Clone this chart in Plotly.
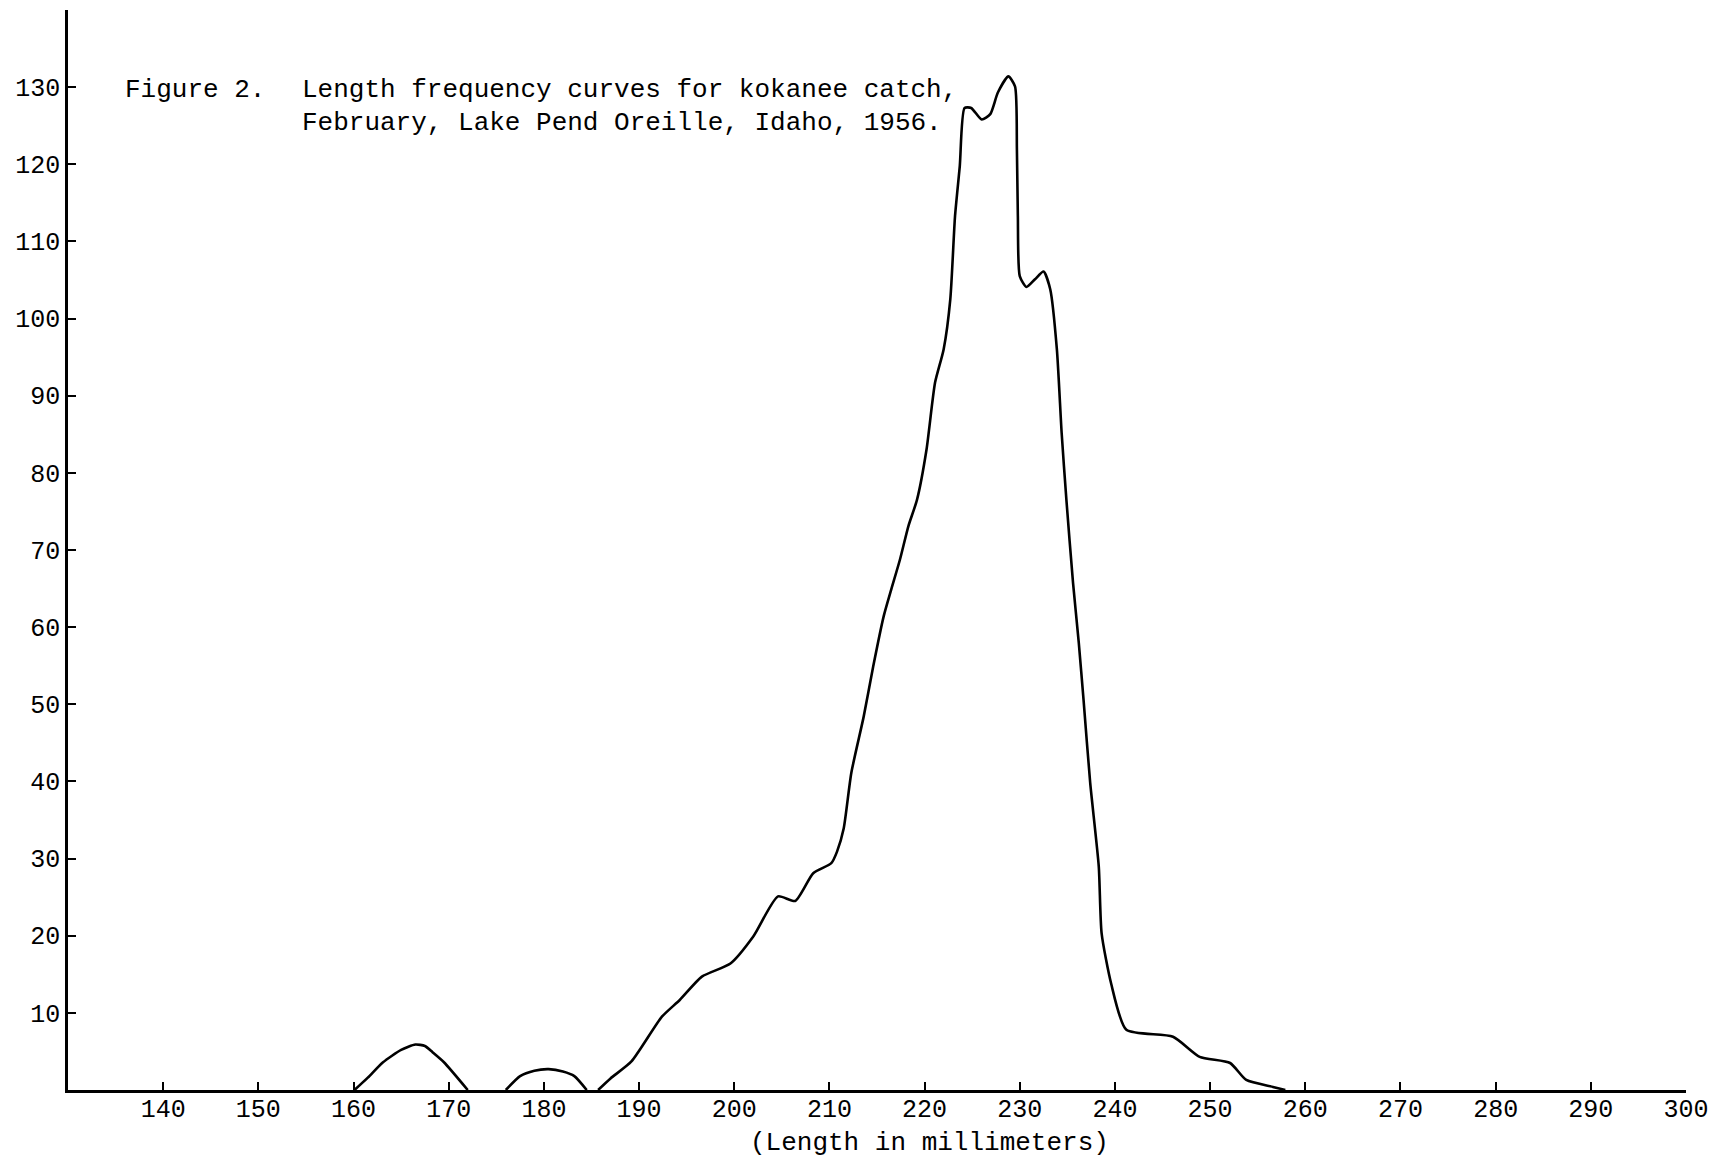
import plotly.graph_objects as go

# Length frequency data (mm, count)
hump1_len = [160.1, 161.5, 163.1, 165.0, 166.5, 167.5, 168.3, 169.5, 172.0]
hump1_cnt = [0.0, 1.6, 3.6, 5.2, 5.9, 5.7, 4.9, 3.6, 0.0]

hump2_len = [176.0, 177.5, 179.0, 180.5, 182.0, 183.2, 184.5]
hump2_cnt = [0.0, 1.8, 2.5, 2.7, 2.4, 1.8, 0.0]

main_len = [185.7, 187.0, 189.2, 192.4, 194.3, 196.6, 199.6, 202.0, 204.6, 206.4,
            208.3, 210.2, 210.8, 211.5, 212.3, 213.6, 214.6, 215.7, 216.5, 217.4,
            218.3, 219.2, 220.2, 221.1, 222.0, 222.7, 223.2, 223.7, 224.2, 224.9,
            226.0, 226.9, 227.7, 228.8, 229.5, 229.7, 229.8, 230.0, 230.7, 231.6,
            232.5, 233.2, 233.9, 234.4, 234.9, 235.6, 236.2, 236.7, 237.4, 238.3,
            238.6, 239.6, 241.2, 246.1, 248.9, 252.1, 253.8, 256.6, 257.9]
main_cnt = [0.0, 1.5, 3.7, 9.5, 11.7, 14.7, 16.4, 19.9, 25.1, 24.5,
            28.1, 29.4, 30.9, 33.9, 41.1, 48.4, 54.9, 61.4, 64.9, 68.7,
            73.1, 76.5, 83.0, 91.7, 96.0, 102.5, 113.3, 119.8, 127.3, 127.3,
            125.8, 126.5, 129.3, 131.4, 130.1, 121.9, 113.3, 105.5, 104.1, 105.1,
            106.1, 103.8, 96.0, 85.2, 76.5, 65.7, 58.0, 50.6, 39.8, 29.0,
            20.3, 13.8, 7.8, 6.9, 4.3, 3.5, 1.3, 0.4, 0.0]

x_ticks = [140, 150, 160, 170, 180, 190, 200, 210, 220, 230, 240, 250, 260, 270, 280, 290, 300]
y_ticks = [10, 20, 30, 40, 50, 60, 70, 80, 90, 100, 110, 120, 130, 140]
y_tick_text = ["10", "20", "30", "40", "50", "60", "70", "80", "90", "100", "110", "120", "130", ""]

title_lines = ["Figure 2.",
               "Length frequency curves for kokanee catch,",
               "February, Lake Pend Oreille, Idaho, 1956."]
x_title = "(Length in millimeters)"

MONO = "Liberation Mono, Courier New, monospace"

fig = go.Figure()
for xs, ys in [(hump1_len, hump1_cnt), (hump2_len, hump2_cnt), (main_len, main_cnt)]:
    fig.add_trace(go.Scatter(x=xs, y=ys, mode="lines",
                             line=dict(color="black", width=2.6, shape="spline", smoothing=0.6),
                             showlegend=False, hoverinfo="skip"))

fig.update_layout(
    width=1728, height=1159,
    margin=dict(l=68, r=42, t=10, b=69),
    paper_bgcolor="white", plot_bgcolor="white",
    font=dict(family=MONO, color="black", size=24),
    showlegend=False,
)
fig.update_xaxes(range=[130, 300], tickvals=x_ticks, ticktext=[str(v) for v in x_ticks],
                 ticks="inside", ticklen=8, tickwidth=2, tickcolor="black",
                 showline=True, linecolor="black", linewidth=2.5,
                 showgrid=False, zeroline=False, ticklabelstandoff=-6,
                 tickfont=dict(family=MONO, size=25, color="black"))
fig.update_yaxes(range=[0, 140], tickvals=y_ticks, ticktext=y_tick_text,
                 ticks="inside", ticklen=8, tickwidth=2, tickcolor="black",
                 showline=True, linecolor="black", linewidth=2.5,
                 showgrid=False, zeroline=False,
                 tickfont=dict(family=MONO, size=25, color="black"))

fig.add_annotation(x=135.8, y=129.6, xref="x", yref="y", text=title_lines[0],
                   showarrow=False, xanchor="left", yanchor="middle",
                   font=dict(family=MONO, size=26, color="black"))
fig.add_annotation(x=154.4, y=129.6, xref="x", yref="y", text=title_lines[1],
                   showarrow=False, xanchor="left", yanchor="middle",
                   font=dict(family=MONO, size=26, color="black"))
fig.add_annotation(x=154.4, y=125.4, xref="x", yref="y", text=title_lines[2],
                   showarrow=False, xanchor="left", yanchor="middle",
                   font=dict(family=MONO, size=26, color="black"))
fig.add_annotation(x=220.5, y=0, xref="x", yref="paper", text=x_title,
                   showarrow=False, xanchor="center", yanchor="top", yshift=-36,
                   font=dict(family=MONO, size=26, color="black"))

fig.write_html("out.html")
